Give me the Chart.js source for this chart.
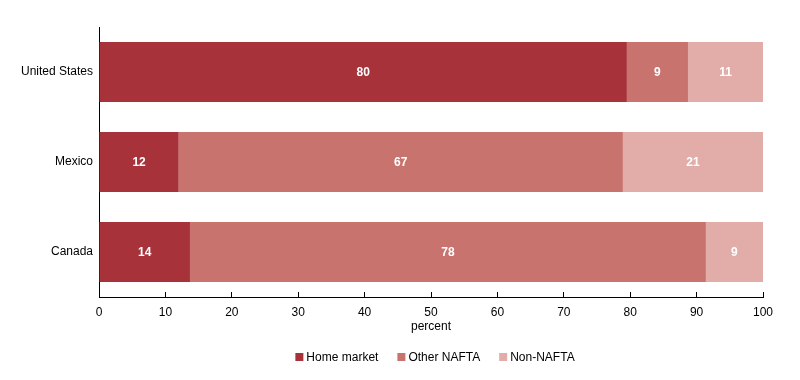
<!DOCTYPE html>
<html>
<head>
<meta charset="utf-8">
<script src="https://cdn.jsdelivr.net/npm/chart.js@4"></script>
<style>
  html, body { margin: 0; padding: 0; background: #fff; }
  #wrap { width: 800px; height: 380px; }
</style>
</head>
<body>
<div id="wrap"><canvas id="myChart" width="800" height="380"></canvas></div>
<script>
var countries = ['United States', 'Mexico', 'Canada'];
var homeMarket = [79.5, 12.0, 13.7];
var otherNafta = [9.2, 66.9, 77.7];
var nonNafta = [11.3, 21.1, 8.6];
var xTicks = [0, 10, 20, 30, 40, 50, 60, 70, 80, 90, 100];

var FONT = '"Liberation Sans", Arial, sans-serif';
Chart.defaults.font.family = FONT;
Chart.defaults.font.size = 12;
Chart.defaults.color = '#000';

// white value labels in the middle of each segment
var barLabels = {
    id: 'barLabels',
    afterDatasetsDraw: function(chart) {
        var ctx = chart.ctx;
        ctx.save();
        ctx.fillStyle = '#fff';
        ctx.font = 'bold 12px ' + FONT;
        ctx.textAlign = 'center';
        ctx.textBaseline = 'middle';
        chart.data.datasets.forEach(function(ds, i) {
            chart.getDatasetMeta(i).data.forEach(function(bar, j) {
                var mid = (bar.x + bar.base) / 2;
                ctx.fillText(Math.round(ds.data[j]), mid, bar.y + 1);
            });
        });
        ctx.restore();
    }
};

// small legend under the axis title, squares + text
var bottomLegend = {
    id: 'bottomLegend',
    afterDraw: function(chart) {
        var ctx = chart.ctx;
        var dsets = chart.data.datasets;
        ctx.save();
        ctx.font = '12px ' + FONT;
        ctx.textBaseline = 'middle';
        ctx.textAlign = 'left';
        var gap = 19, box = 8, boxGap = 3;
        var widths = dsets.map(function(ds) { return box + boxGap + ctx.measureText(ds.label).width; });
        var total = widths.reduce(function(a, b) { return a + b; }, 0) + gap * (dsets.length - 1);
        var x = 435 - total / 2;
        var y = 357;
        dsets.forEach(function(ds, i) {
            ctx.fillStyle = ds.backgroundColor;
            ctx.fillRect(x, y - box / 2, box, box);
            ctx.fillStyle = '#000';
            ctx.fillText(ds.label, x + box + boxGap, y + 1);
            x += widths[i] + gap;
        });
        ctx.restore();
    }
};

var ctx = document.getElementById('myChart').getContext('2d');
var myChart = new Chart(ctx, {
    type: 'bar',
    data: {
        labels: countries,
        datasets: [{
            label: 'Home market',
            data: homeMarket,
            backgroundColor: '#a8323a'
        }, {
            label: 'Other NAFTA',
            data: otherNafta,
            backgroundColor: '#c9736f'
        }, {
            label: 'Non-NAFTA',
            data: nonNafta,
            backgroundColor: '#e2aca8'
        }]
    },
    options: {
        indexAxis: 'y',
        responsive: false,
        animation: false,
        categoryPercentage: 0.667,
        barPercentage: 1,
        layout: { padding: { left: 0, right: 37, top: 27, bottom: 46 } },
        scales: {
            x: {
                stacked: true,
                min: 0,
                max: 100,
                afterBuildTicks: function(scale) {
                    scale.ticks = xTicks.map(function(v) { return { value: v }; });
                },
                afterFit: function(scale) { scale.height = 37; },
                grid: { drawOnChartArea: false, drawTicks: true, tickLength: -5, color: '#000' },
                border: { color: '#000', width: 1 },
                ticks: { padding: 13, maxRotation: 0, font: { size: 12 } },
                title: { display: true, text: 'percent', font: { size: 12 }, padding: { top: 0, bottom: 0 } }
            },
            y: {
                stacked: true,
                afterFit: function(scale) { scale.width = 99; },
                grid: { display: false, drawTicks: false },
                border: { color: '#000', width: 1 },
                ticks: { padding: 6, font: { size: 12 } }
            }
        },
        plugins: {
            legend: { display: false },
            tooltip: { enabled: false }
        }
    },
    plugins: [barLabels, bottomLegend]
});
</script>
</body>
</html>
